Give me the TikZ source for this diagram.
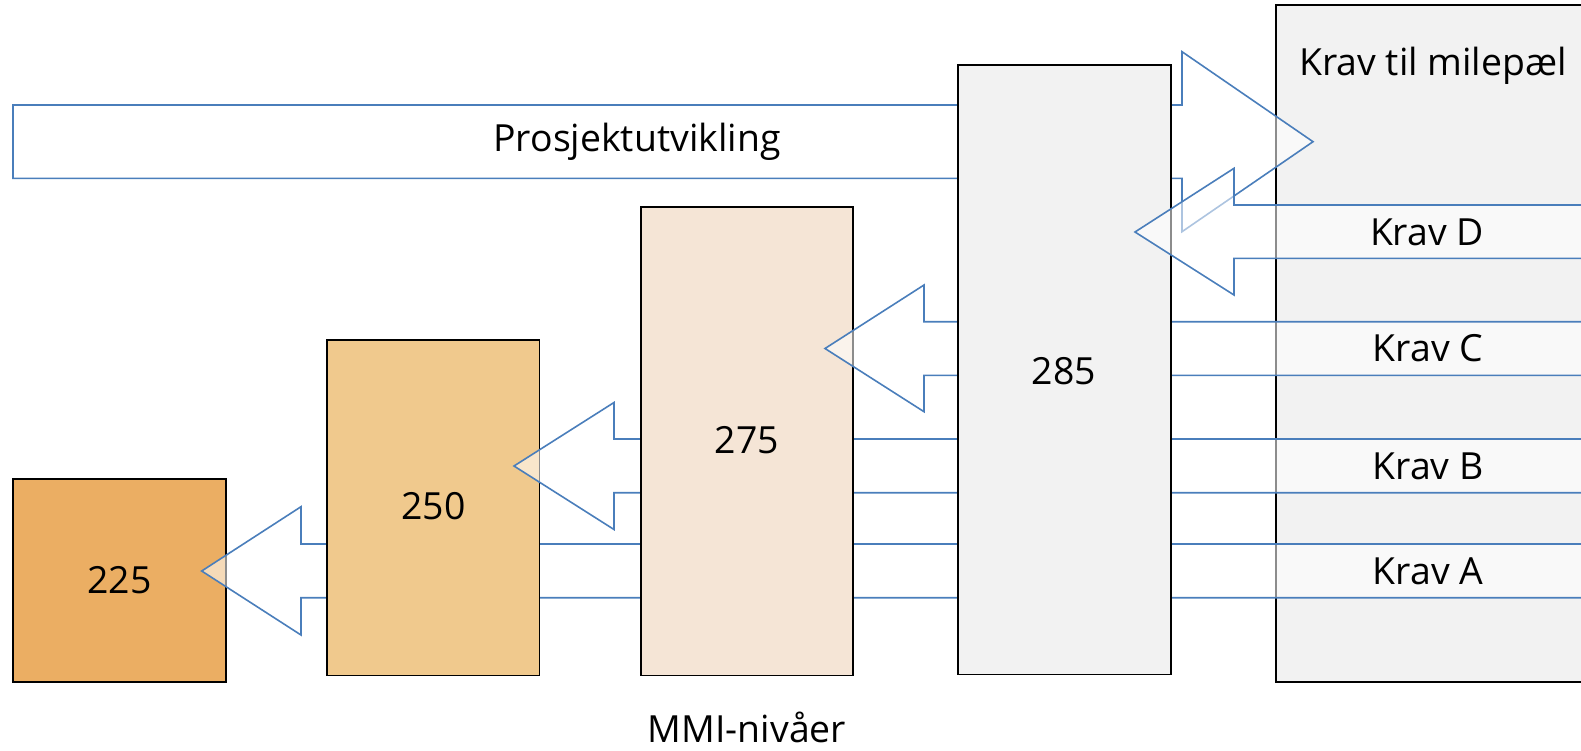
\documentclass[tikz,border=0pt]{standalone}
\usepackage{fontspec}
\setmainfont{Open Sans}
\begin{document}
\begin{tikzpicture}[x=1pt,y=-1pt,
  lbl/.style={font=\fontsize{37.4}{41}\selectfont, text=black, inner sep=0pt},
  blk/.style={draw=black, line width=1.8pt},
  barrow/.style={draw=arrowblue, line width=1.6pt, fill=white, fill opacity=0.55, draw opacity=1, line join=miter}]
\definecolor{arrowblue}{HTML}{4A7EBB}
\definecolor{boxgray}{HTML}{F2F2F2}
\definecolor{c225}{HTML}{EBAE63}
\definecolor{c250}{HTML}{F0C98D}
\definecolor{c275}{HTML}{F5E5D6}
\useasboundingbox (0,0) rectangle (1581,750);
\clip (0,0) rectangle (1581,750);
% Krav til milepael box
\draw[blk, fill=boxgray] (1276,5) rectangle (1595,682);
\node[lbl] (krav) at (1433,66) {Krav til milepæl};
% Prosjektutvikling arrow
\draw[barrow] (13,105) -- (1182,105) -- (1182,51.7) -- (1313,141.7) -- (1182,231.7) -- (1182,178.3) -- (13,178.3) -- cycle;
\node[lbl] (prosj) at (637,142) {Prosjektutvikling};
% 225 box
\draw[blk, fill=c225] (13,479) rectangle (225.7,682);
\node[lbl] (n225) at (119.5,580) {225};
% Krav A arrow
\draw[barrow] (1600,544) -- (301,544) -- (301,506.7) -- (201.7,571) -- (301,635) -- (301,597.7) -- (1600,597.7) -- cycle;
\node[lbl] (kravA) at (1428,571) {Krav A};
% 250 box
\draw[blk, fill=c250] (327,340) rectangle (539.4,675.5);
\node[lbl] (n250) at (433.5,506) {250};
% Krav B arrow
\draw[barrow] (1600,439) -- (614,439) -- (614,402.5) -- (514,466) -- (614,529.5) -- (614,492.7) -- (1600,492.7) -- cycle;
\node[lbl] (kravB) at (1428,466) {Krav B};
% 275 box
\draw[blk, fill=c275] (641,206.7) rectangle (853,675.5);
\node[lbl] (n275) at (747,440) {275};
% Krav C arrow
\draw[barrow] (1600,321.7) -- (924,321.7) -- (924,285) -- (825,348.5) -- (924,411.7) -- (924,375.3) -- (1600,375.3) -- cycle;
\node[lbl] (kravC) at (1428,348.5) {Krav C};
% 285 box
\draw[blk, fill=boxgray] (958,65) rectangle (1170.7,674.5);
\node[lbl] (n285) at (1064,371) {285};
% Krav D arrow
\draw[barrow] (1600,205) -- (1234,205) -- (1234,168.3) -- (1135,232) -- (1234,295) -- (1234,258.3) -- (1600,258.3) -- cycle;
\node[lbl] (kravD) at (1427,232) {Krav D};
% MMI label
\node[lbl, anchor=base] (mmi) at (747,742) {MMI-nivåer};
\end{tikzpicture}
\end{document}
